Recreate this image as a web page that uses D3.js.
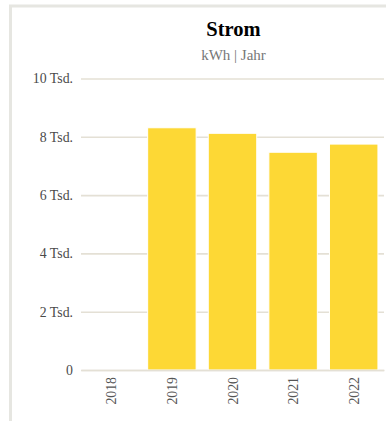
<!DOCTYPE html>
<html>
<head>
<meta charset="utf-8">
<script src="https://cdn.jsdelivr.net/npm/d3@7"></script>
<style>
  html, body { margin: 0; padding: 0; background: #fff; overflow: hidden; }
  svg { display: block; }
</style>
</head>
<body>
<svg id="chart" width="386" height="421"></svg>
<script>
// Annual electricity consumption
const years = ["2018", "2019", "2020", "2021", "2022"];
const consumption = [null, 8310, 8120, 7470, 7750];
const yTicks = [0, 2000, 4000, 6000, 8000, 10000];
const titleText = "Strom";
const subtitleText = "kWh | Jahr";

const svg = d3.select("#chart");
const font = "'Liberation Serif', 'Times New Roman', serif";

// card frame (top and left edges visible)
svg.append("rect")
  .attr("x", 10.5).attr("y", 6)
  .attr("width", 500).attr("height", 500)
  .attr("fill", "#fff")
  .attr("stroke", "#e6e6e1")
  .attr("stroke-width", 3);

const plot = { left: 81, right: 384, top: 78.5, bottom: 370 };

const x = d3.scaleBand()
  .domain(years)
  .range([plot.left, plot.right])
  .paddingInner(0.2)
  .paddingOuter(0.1);

const y = d3.scaleLinear()
  .domain([0, 10000])
  .range([plot.bottom, plot.top]);

// gridlines + y labels
const yAxis = d3.axisLeft(y)
  .tickValues(yTicks)
  .tickSize(-(plot.right - plot.left))
  .tickPadding(8)
  .tickFormat(d => d === 0 ? "0" : (d / 1000) + " Tsd.");

const gy = svg.append("g")
  .attr("transform", `translate(${plot.left},0)`)
  .call(yAxis);
gy.select(".domain").remove();
gy.selectAll(".tick line").attr("stroke", "#e4e0d5").attr("stroke-width", 1.6);
gy.selectAll(".tick text")
  .attr("font-family", font)
  .attr("font-size", 13.8)
  .attr("fill", "#4a4a4a");

// bars
svg.append("g").selectAll("rect")
  .data(years.map((yr, i) => ({ yr, v: consumption[i] })).filter(d => d.v != null))
  .join("rect")
  .attr("x", d => x(d.yr))
  .attr("width", x.bandwidth())
  .attr("y", d => y(d.v))
  .attr("height", d => y(0) - y(d.v))
  .attr("fill", "#fdd835")
  .attr("stroke", "#fff")
  .attr("stroke-width", 1);

// x axis baseline and rotated labels
const xAxis = d3.axisBottom(x).tickSize(0).tickPadding(0);
const gx = svg.append("g")
  .attr("transform", `translate(0,${plot.bottom})`)
  .call(xAxis);
gx.select(".domain").attr("stroke", "#e4e0d5").attr("stroke-width", 1.6);
gx.selectAll(".tick text")
  .attr("font-family", font)
  .attr("font-size", 13.8)
  .attr("fill", "#555")
  .attr("text-anchor", "end")
  .attr("dy", null)
  .attr("y", 0)
  .attr("transform", "translate(5,7) rotate(-90)");

// title and subtitle
const cx = (plot.left + plot.right) / 2 + 1;
svg.append("text")
  .attr("x", cx).attr("y", 36)
  .attr("text-anchor", "middle")
  .attr("font-family", font)
  .attr("font-weight", "bold")
  .attr("font-size", 20.5)
  .attr("fill", "#000")
  .text(titleText);

svg.append("text")
  .attr("x", cx).attr("y", 60)
  .attr("text-anchor", "middle")
  .attr("font-family", font)
  .attr("font-size", 15)
  .attr("fill", "#777")
  .text(subtitleText);
</script>
</body>
</html>
